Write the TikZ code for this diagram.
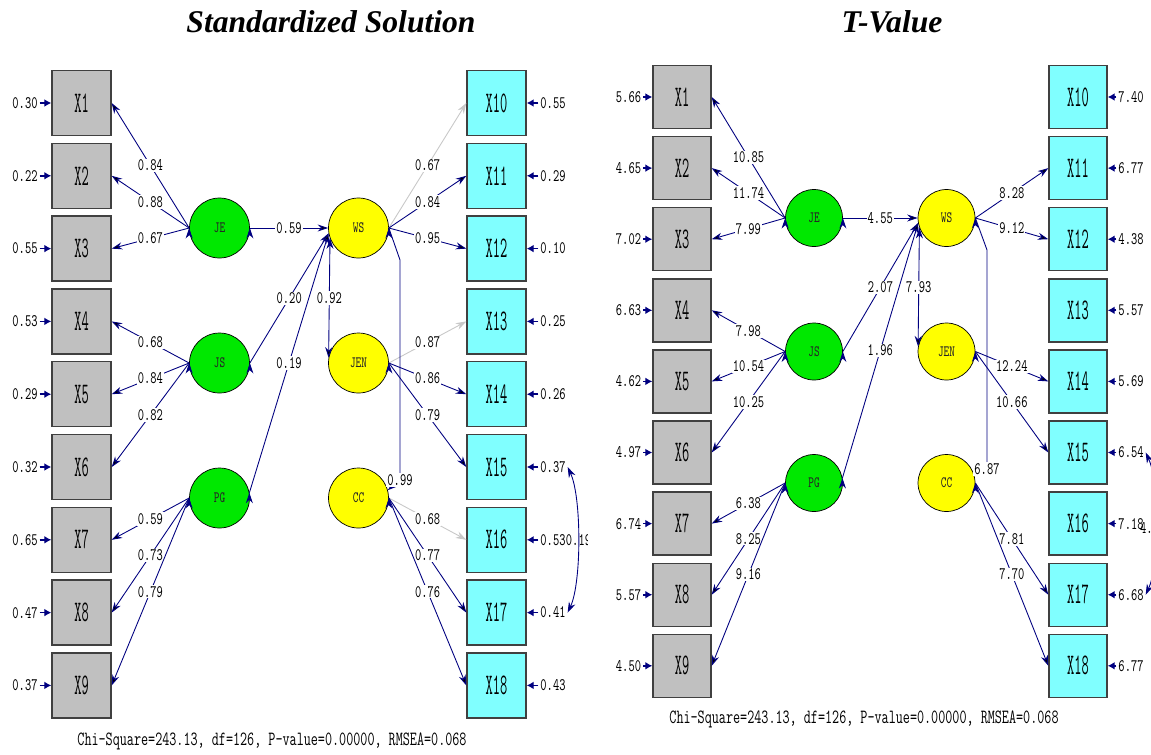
\documentclass[tikz,border=0pt]{standalone}
\usepackage{fontspec}
\usetikzlibrary{arrows.meta}
\setmainfont{Liberation Serif}
\newfontfamily\lisfont{Latin Modern Mono}[FakeStretch=0.68]
\newfontfamily\lisnarrow{Latin Modern Mono}[FakeStretch=0.47]
\definecolor{boxgray}{HTML}{C0C0C0}
\definecolor{boxcyan}{HTML}{80FFFF}
\definecolor{latgreen}{HTML}{00E800}
\definecolor{latyellow}{HTML}{FFFF00}
\definecolor{lisnavy}{HTML}{000080}
\definecolor{lisgray}{HTML}{C8C8C8}
\begin{document}
\begin{tikzpicture}[x=0.02cm, y=-0.02cm,
  obs/.style={draw=black!75, line width=0.8pt, fill=boxgray, minimum width=1.18cm, minimum height=1.3cm, inner sep=0pt, font={\lisnarrow\fontsize{17}{17}\selectfont}},
  ind/.style={obs, fill=boxcyan},
  obsT/.style={obs, minimum width=1.16cm, minimum height=1.26cm},
  indT/.style={obsT, fill=boxcyan},
  lat/.style={circle, draw=black, thin, minimum size=1.2cm, inner sep=0pt, font={\lisfont\fontsize{9}{9}\selectfont}, text=black!85},
  exo/.style={lat, fill=latgreen},
  endo/.style={lat, fill=latyellow},
  exoT/.style={exo, minimum size=1.14cm},
  endoT/.style={endo, minimum size=1.14cm},
  lnk/.style={draw=lisnavy, line width=0.5pt, -{Stealth[length=6pt,width=4pt]}},
  fixd/.style={draw=lisgray},
  cor/.style={draw=lisnavy, line width=0.5pt, {Stealth[length=6pt,width=4pt]}-{Stealth[length=6pt,width=4pt]}},
  val/.style={fill=white, inner sep=0.6pt, font={\lisfont\fontsize{10}{10}\selectfont}},
  elbl/.style={inner sep=1pt, font={\lisfont\fontsize{10}{10}\selectfont}},
  err/.style={draw=lisnavy, line width=1pt, -{Latex[length=4pt,width=4.5pt]}},
  chi/.style={font={\lisfont\fontsize{11.5}{12}\selectfont}},
  ttl/.style={font={\bfseries\itshape\fontsize{18}{18}\selectfont}}]
\path[use as bounding box, fill=white] (0,0) rectangle (1151,754);

% ---- standardized solution
\node[ttl] (ttlA) at (331,22) {Standardized Solution};
\node[obs] (aX1) at (81.5,103) {X1};
\node[obs] (aX2) at (81.5,175.8) {X2};
\node[obs] (aX3) at (81.5,248.6) {X3};
\node[obs] (aX4) at (81.5,321.4) {X4};
\node[obs] (aX5) at (81.5,394.2) {X5};
\node[obs] (aX6) at (81.5,467) {X6};
\node[obs] (aX7) at (81.5,539.8) {X7};
\node[obs] (aX8) at (81.5,612.6) {X8};
\node[obs] (aX9) at (81.5,685.4) {X9};
\node[ind] (aX10) at (496.5,103) {X10};
\node[ind] (aX11) at (496.5,175.8) {X11};
\node[ind] (aX12) at (496.5,248.6) {X12};
\node[ind] (aX13) at (496.5,321.4) {X13};
\node[ind] (aX14) at (496.5,394.2) {X14};
\node[ind] (aX15) at (496.5,467) {X15};
\node[ind] (aX16) at (496.5,539.8) {X16};
\node[ind] (aX17) at (496.5,612.6) {X17};
\node[ind] (aX18) at (496.5,685.4) {X18};
\node[elbl] (ae1) at (25,103) {0.30};
\node[elbl] (ae2) at (25,175.8) {0.22};
\node[elbl] (ae3) at (25,248.6) {0.55};
\node[elbl] (ae4) at (25,321.4) {0.53};
\node[elbl] (ae5) at (25,394.2) {0.29};
\node[elbl] (ae6) at (25,467) {0.32};
\node[elbl] (ae7) at (25,539.8) {0.65};
\node[elbl] (ae8) at (25,612.6) {0.47};
\node[elbl] (ae9) at (25,685.4) {0.37};
\node[elbl] (ae10) at (553,103) {0.55};
\node[elbl] (ae11) at (553,175.8) {0.29};
\node[elbl] (ae12) at (553,248.6) {0.10};
\node[elbl] (ae13) at (553,321.4) {0.25};
\node[elbl] (ae14) at (553,394.2) {0.26};
\node[elbl] (ae15) at (553,467) {0.37};
\node[elbl] (ae16) at (553,539.8) {0.53};
\node[elbl] (ae17) at (553,612.6) {0.41};
\node[elbl] (ae18) at (553,685.4) {0.43};
\foreach \i in {1,...,18} \draw[err] (ae\i) -- (aX\i);
\node[exo] (aJE) at (219.5,228) {JE};
\node[exo] (aJS) at (219.5,363) {JS};
\node[exo] (aPG) at (219.5,498) {PG};
\node[endo] (aWS) at (358.5,228) {WS};
\node[endo] (aJEN) at (358.5,363) {JEN};
\node[endo] (aCC) at (358.5,498) {CC};
\path[lnk] (aJE.west) edge node[val] {0.84} (aX1.east) edge node[val] {0.88} (aX2.east) edge node[val] {0.67} (aX3.east);
\path[lnk] (aJS.west) edge node[val] {0.68} (aX4.east) edge node[val] {0.84} (aX5.east) edge node[val] {0.82} (aX6.east);
\path[lnk] (aPG.west) edge node[val] {0.59} (aX7.east) edge node[val] {0.73} (aX8.east) edge node[val] {0.79} (aX9.east);
\path[lnk] (aWS.east) edge[fixd] node[val] {0.67} (aX10.west) edge node[val] {0.84} (aX11.west) edge node[val] {0.95} (aX12.west);
\path[lnk] (aJEN.east) edge[fixd] node[val] {0.87} (aX13.west) edge node[val] {0.86} (aX14.west) edge node[val] {0.79} (aX15.west);
\path[lnk] (aCC.east) edge[fixd] node[val] {0.68} (aX16.west) edge node[val] {0.77} (aX17.west) edge node[val] {0.76} (aX18.west);
\path[lnk] (aJE.east) edge node[val] {0.59} (aWS.west);
\path[lnk] (aJS.east) edge node[val] {0.20} (aWS.190);
\path[lnk] (aPG.10) edge node[val] {0.19} (aWS.190);
\path[lnk] (aWS.200) edge node[val] {0.92} (aJEN.170);
\draw[lnk] (aWS.east) -- (400,260) -- (400,480) node[val] {0.99} -- (aCC.15);
\draw[cor] (ae15.east) .. controls +(14,30) and +(14,-30) .. (ae17.east);
\begin{scope}
\clip (0,0) rectangle (587,754);
\node[elbl] (acor) at (578.5,540) {0.19};
\end{scope}
\node[chi] (chiA) at (272,741) {Chi-Square=243.13, df=126, P-value=0.00000, RMSEA=0.068};

% ---- t-values
\node[ttl] (ttlB) at (892,22) {T-Value};
\node[obsT] (bX1) at (682,97) {X1};
\node[obsT] (bX2) at (682,168.1) {X2};
\node[obsT] (bX3) at (682,239.2) {X3};
\node[obsT] (bX4) at (682,310.3) {X4};
\node[obsT] (bX5) at (682,381.4) {X5};
\node[obsT] (bX6) at (682,452.5) {X6};
\node[obsT] (bX7) at (682,523.6) {X7};
\node[obsT] (bX8) at (682,594.7) {X8};
\node[obsT] (bX9) at (682,665.8) {X9};
\node[indT] (bX10) at (1078,97) {X10};
\node[indT] (bX11) at (1078,168.1) {X11};
\node[indT] (bX12) at (1078,239.2) {X12};
\node[indT] (bX13) at (1078,310.3) {X13};
\node[indT] (bX14) at (1078,381.4) {X14};
\node[indT] (bX15) at (1078,452.5) {X15};
\node[indT] (bX16) at (1078,523.6) {X16};
\node[indT] (bX17) at (1078,594.7) {X17};
\node[indT] (bX18) at (1078,665.8) {X18};
\node[elbl] (be1) at (628.5,97) {5.66};
\node[elbl] (be2) at (628.5,168.1) {4.65};
\node[elbl] (be3) at (628.5,239.2) {7.02};
\node[elbl] (be4) at (628.5,310.3) {6.63};
\node[elbl] (be5) at (628.5,381.4) {4.62};
\node[elbl] (be6) at (628.5,452.5) {4.97};
\node[elbl] (be7) at (628.5,523.6) {6.74};
\node[elbl] (be8) at (628.5,594.7) {5.57};
\node[elbl] (be9) at (628.5,665.8) {4.50};
\node[elbl] (be10) at (1131,97) {7.40};
\node[elbl] (be11) at (1131,168.1) {6.77};
\node[elbl] (be12) at (1131,239.2) {4.38};
\node[elbl] (be13) at (1131,310.3) {5.57};
\node[elbl] (be14) at (1131,381.4) {5.69};
\node[elbl] (be15) at (1131,452.5) {6.54};
\node[elbl] (be16) at (1131,523.6) {7.18};
\node[elbl] (be17) at (1131,594.7) {6.68};
\node[elbl] (be18) at (1131,665.8) {6.77};
\foreach \i in {1,...,18} \draw[err] (be\i) -- (bX\i);
\node[exoT] (bJE) at (814,218) {JE};
\node[exoT] (bJS) at (814,351.5) {JS};
\node[exoT] (bPG) at (814,483) {PG};
\node[endoT] (bWS) at (946.5,218) {WS};
\node[endoT] (bJEN) at (946.5,351.5) {JEN};
\node[endoT] (bCC) at (946.5,483) {CC};
\path[lnk] (bJE.west) edge node[val] {10.85} (bX1.east) edge node[val] {11.74} (bX2.east) edge node[val] {7.99} (bX3.east);
\path[lnk] (bJS.west) edge node[val] {7.98} (bX4.east) edge node[val] {10.54} (bX5.east) edge node[val] {10.25} (bX6.east);
\path[lnk] (bPG.west) edge node[val] {6.38} (bX7.east) edge node[val] {8.25} (bX8.east) edge node[val] {9.16} (bX9.east);
\path[lnk] (bWS.east) edge node[val] {8.28} (bX11.west) edge node[val] {9.12} (bX12.west);
\path[lnk] (bJEN.east) edge node[val] {12.24} (bX14.west) edge node[val] {10.66} (bX15.west);
\path[lnk] (bCC.east) edge node[val] {7.81} (bX17.west) edge node[val] {7.70} (bX18.west);
\path[lnk] (bJE.east) edge node[val] {4.55} (bWS.west);
\path[lnk] (bJS.east) edge node[val] {2.07} (bWS.190);
\path[lnk] (bPG.10) edge node[val] {1.96} (bWS.190);
\path[lnk] (bWS.200) edge node[val] {7.93} (bJEN.170);
\draw[lnk] (bWS.east) -- (987,250) -- (987,469) node[val] {6.87} -- (bCC.15);
\draw[cor] (be15.east) .. controls +(14,30) and +(14,-30) .. (be17.east);
\node[elbl, anchor=west] (bcor) at (1138,528) {4.};
\node[chi] (chiB) at (864,719) {Chi-Square=243.13, df=126, P-value=0.00000, RMSEA=0.068};
\end{tikzpicture}
\end{document}
